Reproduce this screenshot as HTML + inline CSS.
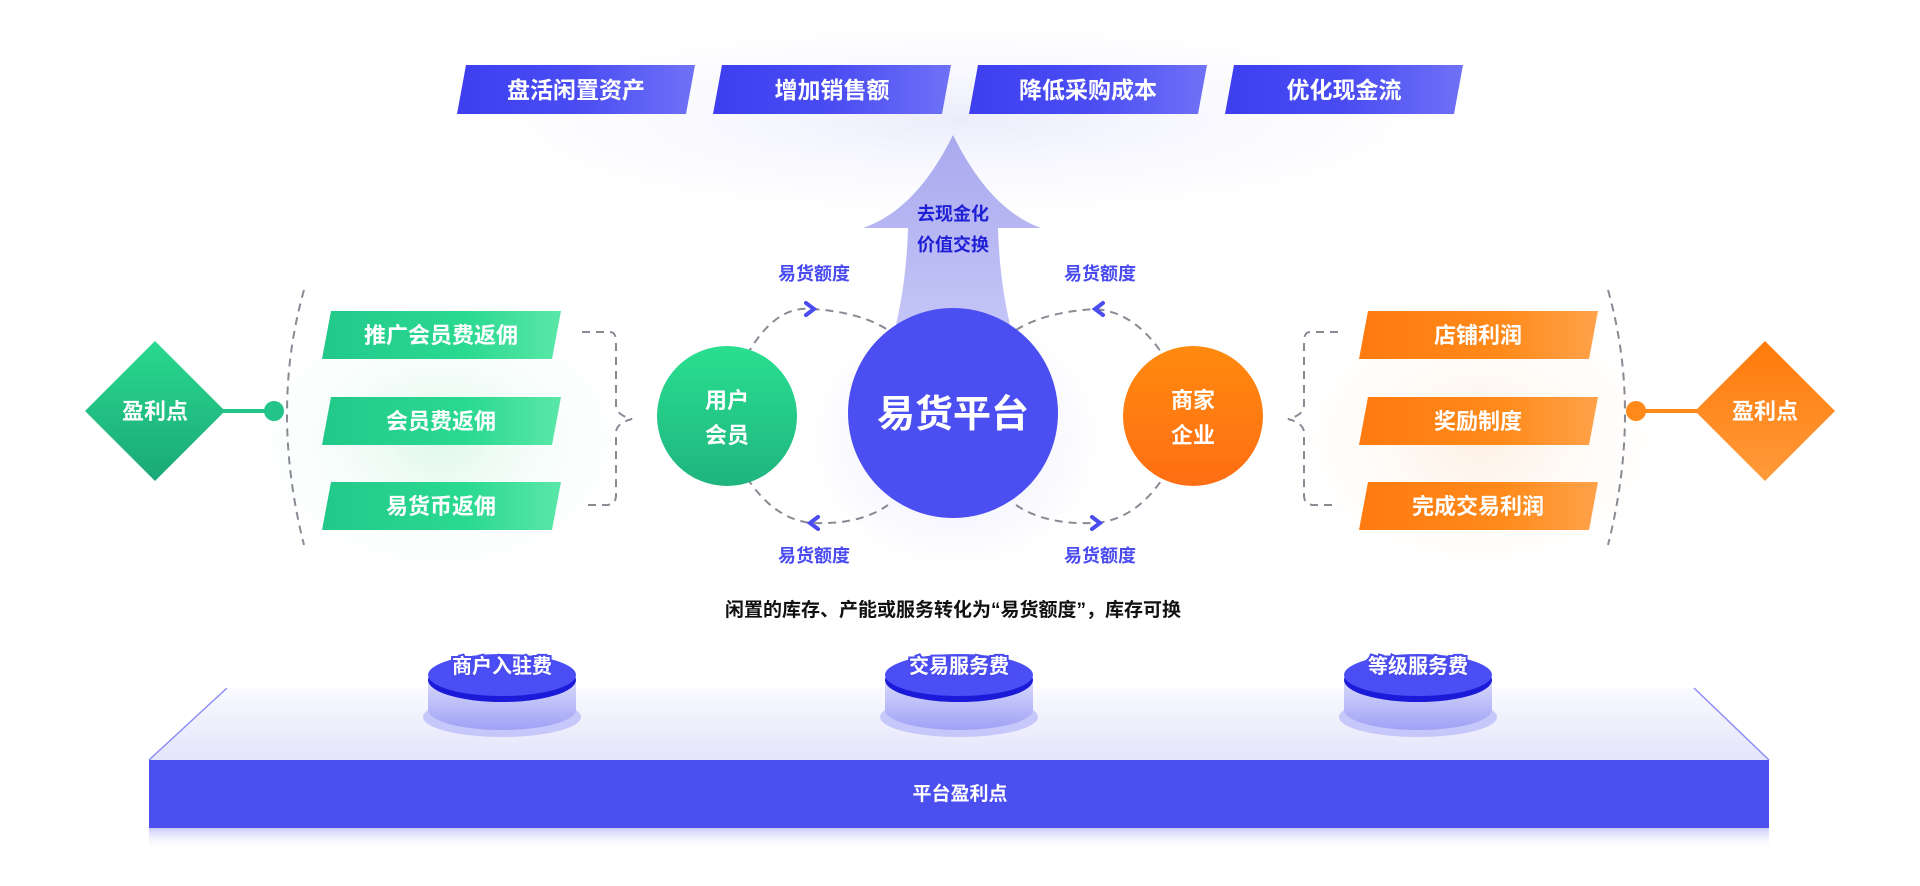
<!DOCTYPE html>
<html><head><meta charset="utf-8"><style>
html,body{margin:0;padding:0;background:#fff;}
svg{display:block;font-family:"Liberation Sans","Noto Sans CJK SC",sans-serif;font-weight:bold;}
</style></head><body>
<svg width="1920" height="886" viewBox="0 0 1920 886" xmlns="http://www.w3.org/2000/svg">
<defs>
<linearGradient id="bn" x1="0" y1="0" x2="1" y2="0"><stop offset="0" stop-color="#3d3ff0"/><stop offset=".5" stop-color="#4a4cf2"/><stop offset="1" stop-color="#6f72f7"/></linearGradient>
<linearGradient id="gr" x1="0" y1="0" x2="1" y2="0"><stop offset="0" stop-color="#22c98a"/><stop offset=".6" stop-color="#2ad990"/><stop offset="1" stop-color="#5ae7a8"/></linearGradient>
<linearGradient id="or" x1="0" y1="0" x2="1" y2="0"><stop offset="0" stop-color="#ff7a10"/><stop offset=".6" stop-color="#ff8a1a"/><stop offset="1" stop-color="#ffa24a"/></linearGradient>
<linearGradient id="arr" x1="0" y1="0" x2="0" y2="1"><stop offset="0" stop-color="#a9a9ef"/><stop offset="1" stop-color="#c9caf8"/></linearGradient>
<linearGradient id="gc" x1="0" y1="0" x2="0" y2="1"><stop offset="0" stop-color="#2adf90"/><stop offset="1" stop-color="#1fb47f"/></linearGradient>
<linearGradient id="oc" x1="0" y1="0" x2="0" y2="1"><stop offset="0" stop-color="#ff8a0e"/><stop offset="1" stop-color="#ff6e14"/></linearGradient>
<linearGradient id="gd" x1="0" y1="0" x2="0" y2="1"><stop offset="0" stop-color="#2ad98e"/><stop offset="1" stop-color="#1aa877"/></linearGradient>
<linearGradient id="od" x1="0" y1="0" x2="0" y2="1"><stop offset="0" stop-color="#ff7a0a"/><stop offset="1" stop-color="#ff9a3a"/></linearGradient>
<linearGradient id="plat" x1="0" y1="0" x2="0" y2="1"><stop offset="0" stop-color="#fafaff"/><stop offset="1" stop-color="#e4e4fb"/></linearGradient>
<linearGradient id="shd" x1="0" y1="0" x2="0" y2="1"><stop offset="0" stop-color="#c9caf6"/><stop offset="1" stop-color="#fff" stop-opacity="0"/></linearGradient>
<linearGradient id="cyl" x1="0" y1="0" x2="0" y2="1"><stop offset="0" stop-color="#d8d9fc"/><stop offset="1" stop-color="#9fa1f5"/></linearGradient>
<radialGradient id="glow"><stop offset="0" stop-color="#c8c9f8" stop-opacity=".7"/><stop offset="1" stop-color="#fff" stop-opacity="0"/></radialGradient>
<radialGradient id="gg"><stop offset="0" stop-color="#c9f3df" stop-opacity=".6"/><stop offset="1" stop-color="#fff" stop-opacity="0"/></radialGradient>
<radialGradient id="og"><stop offset="0" stop-color="#fde6d0" stop-opacity=".6"/><stop offset="1" stop-color="#fff" stop-opacity="0"/></radialGradient>
</defs>
<rect width="1920" height="886" fill="#fff"/>
<ellipse cx="960" cy="120" rx="600" ry="120" fill="url(#glow)" opacity=".5"/>
<ellipse cx="440" cy="440" rx="220" ry="160" fill="url(#gg)"/>
<ellipse cx="1480" cy="440" rx="220" ry="160" fill="url(#og)"/>
<ellipse cx="955" cy="440" rx="170" ry="150" fill="url(#glow)"/>

<g font-size="23" fill="#fff" text-anchor="middle">
<polygon points="466,65 695,65 686,114 457,114" fill="url(#bn)"/><text x="576" y="98">盘活闲置资产</text>
<polygon points="722,65 951,65 942,114 713,114" fill="url(#bn)"/><text x="832" y="98">增加销售额</text>
<polygon points="978,65 1207,65 1198,114 969,114" fill="url(#bn)"/><text x="1088" y="98">降低采购成本</text>
<polygon points="1234,65 1463,65 1454,114 1225,114" fill="url(#bn)"/><text x="1344" y="98">优化现金流</text>
</g>

<path d="M953,135 Q990,210 1041,228 L998,228 Q1000,300 1020,360 L886,360 Q906,300 908,228 L863,228 Q916,210 953,135 Z" fill="url(#arr)"/>
<g font-size="18" fill="#1f1fd6" text-anchor="middle"><text x="953" y="220">去现金化</text><text x="953" y="251">价值交换</text></g>

<g fill="none" stroke="#8a8a95" stroke-width="2" stroke-dasharray="8,6">
<path d="M747,355 Q775,305 812,309 Q860,312 888,330"/>
<path d="M1016,330 Q1045,312 1095,309 Q1135,312 1163,355"/>
<path d="M747,478 Q775,520 812,523 Q860,525 888,505"/>
<path d="M1016,505 Q1045,525 1095,523 Q1135,520 1163,478"/>
<path d="M582,332 L610,332 Q616,332 616,342 L616,405 Q616,415 632,419 Q616,423 616,433 L616,495 Q616,505 606,505 L582,505"/>
<path d="M1338,332 L1310,332 Q1304,332 1304,342 L1304,405 Q1304,415 1288,419 Q1304,423 1304,433 L1304,495 Q1304,505 1314,505 L1338,505"/>
<path d="M304,290 Q270,410 304,545"/>
<path d="M1608,290 Q1642,410 1608,545"/>
</g>
<g fill="none" stroke="#4a4cf0" stroke-width="4" stroke-linecap="round">
<path d="M806,303 L814,309 L806,315"/>
<path d="M1103,303 L1095,309 L1103,315"/>
<path d="M818,517 L810,523 L818,529"/>
<path d="M1092,517 L1100,523 L1092,529"/>
</g>
<g font-size="18" fill="#4a4cf0" text-anchor="middle">
<text x="814" y="280">易货额度</text><text x="1100" y="280">易货额度</text>
<text x="814" y="562">易货额度</text><text x="1100" y="562">易货额度</text>
</g>

<circle cx="953" cy="413" r="105" fill="#4b4ef0"/>
<text x="953" y="427" font-size="38" fill="#fff" text-anchor="middle">易货平台</text>
<circle cx="727" cy="416" r="70" fill="url(#gc)"/>
<g font-size="22" fill="#fff" text-anchor="middle"><text x="727" y="408">用户</text><text x="727" y="443">会员</text></g>
<circle cx="1193" cy="416" r="70" fill="url(#oc)"/>
<g font-size="22" fill="#fff" text-anchor="middle"><text x="1193" y="408">商家</text><text x="1193" y="443">企业</text></g>

<g font-size="22" fill="#fff" text-anchor="middle">
<polygon points="331,311 561,311 552,359 322,359" fill="url(#gr)"/><text x="441" y="343">推广会员费返佣</text>
<polygon points="331,397 561,397 552,445 322,445" fill="url(#gr)"/><text x="441" y="429">会员费返佣</text>
<polygon points="331,482 561,482 552,530 322,530" fill="url(#gr)"/><text x="441" y="514">易货币返佣</text>
<polygon points="1368,311 1598,311 1589,359 1359,359" fill="url(#or)"/><text x="1478" y="343">店铺利润</text>
<polygon points="1368,397 1598,397 1589,445 1359,445" fill="url(#or)"/><text x="1478" y="429">奖励制度</text>
<polygon points="1368,482 1598,482 1589,530 1359,530" fill="url(#or)"/><text x="1478" y="514">完成交易利润</text>
</g>

<line x1="215" y1="411" x2="274" y2="411" stroke="#22c48a" stroke-width="4"/>
<circle cx="274" cy="411" r="10" fill="#22c48a"/>
<polygon points="155,341 225,411 155,481 85,411" fill="url(#gd)"/>
<text x="155" y="419" font-size="22" fill="#fff" text-anchor="middle">盈利点</text>
<line x1="1636" y1="411" x2="1700" y2="411" stroke="#ff8a1a" stroke-width="4"/>
<circle cx="1636" cy="411" r="10" fill="#ff8a1a"/>
<polygon points="1765,341 1835,411 1765,481 1695,411" fill="url(#od)"/>
<text x="1765" y="419" font-size="22" fill="#fff" text-anchor="middle">盈利点</text>

<text x="953" y="616" font-size="19" fill="#111" text-anchor="middle">闲置的库存、产能或服务转化为“易货额度”，库存可换</text>

<polygon points="227,688 1694,688 1769,760 149,760" fill="url(#plat)"/>
<line x1="227" y1="688" x2="149" y2="760" stroke="#8b8df7" stroke-width="1.5"/>
<line x1="1694" y1="688" x2="1769" y2="760" stroke="#8b8df7" stroke-width="1.5"/>
<rect x="149" y="760" width="1620" height="68" fill="#4a4fee"/>
<rect x="149" y="828" width="1620" height="22" fill="url(#shd)"/>
<text x="960" y="800" font-size="19" fill="#fff" text-anchor="middle">平台盈利点</text>

<g font-size="20" fill="#fff" text-anchor="middle">
<g transform="translate(502,0)">
<ellipse cx="0" cy="717" rx="79" ry="20" fill="#b5b6f8" opacity=".7"/>
<path d="M-74,680 L-74,710 A74,20 0 0 0 74,710 L74,680 Z" fill="url(#cyl)"/>
<ellipse cx="0" cy="680" rx="74" ry="22" fill="#1a1ad8"/>
<ellipse cx="0" cy="675" rx="74" ry="21" fill="#4b4ef5"/>
<text x="0" y="673" stroke="#4a4cf0" stroke-width="4" paint-order="stroke">商户入驻费</text></g>
<g transform="translate(959,0)">
<ellipse cx="0" cy="717" rx="79" ry="20" fill="#b5b6f8" opacity=".7"/>
<path d="M-74,680 L-74,710 A74,20 0 0 0 74,710 L74,680 Z" fill="url(#cyl)"/>
<ellipse cx="0" cy="680" rx="74" ry="22" fill="#1a1ad8"/>
<ellipse cx="0" cy="675" rx="74" ry="21" fill="#4b4ef5"/>
<text x="0" y="673" stroke="#4a4cf0" stroke-width="4" paint-order="stroke">交易服务费</text></g>
<g transform="translate(1418,0)">
<ellipse cx="0" cy="717" rx="79" ry="20" fill="#b5b6f8" opacity=".7"/>
<path d="M-74,680 L-74,710 A74,20 0 0 0 74,710 L74,680 Z" fill="url(#cyl)"/>
<ellipse cx="0" cy="680" rx="74" ry="22" fill="#1a1ad8"/>
<ellipse cx="0" cy="675" rx="74" ry="21" fill="#4b4ef5"/>
<text x="0" y="673" stroke="#4a4cf0" stroke-width="4" paint-order="stroke">等级服务费</text></g>
</g>
</svg>
</body></html>
